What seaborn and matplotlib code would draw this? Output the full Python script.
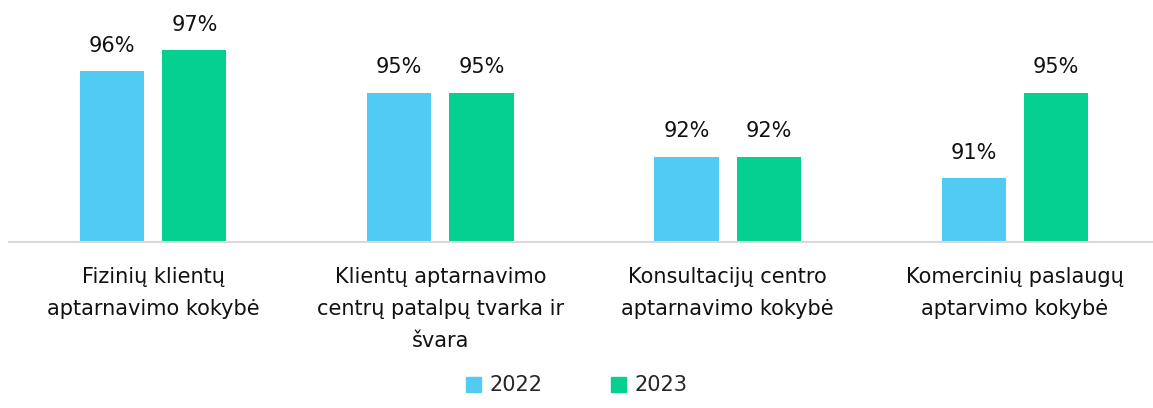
import matplotlib.pyplot as plt
import matplotlib.patches as mpatches
import seaborn as sns
import pandas as pd

categories = [
    "Fizinių klientų\naptarnavimo kokybė",
    "Klientų aptarnavimo\ncentrų patalpų tvarka ir\nšvara",
    "Konsultacijų centro\naptarnavimo kokybė",
    "Komercinių paslaugų\naptarvimo kokybė",
]
years = ["2022", "2023"]
values_2022 = [96, 95, 92, 91]
values_2023 = [97, 95, 92, 95]
colors = {"2022": "#52CBF3", "2023": "#05D08F"}

df = pd.DataFrame({
    "category": categories * 2,
    "year": ["2022"] * 4 + ["2023"] * 4,
    "value": values_2022 + values_2023,
})

sns.set_theme(style="white")
plt.rcParams["font.family"] = ["DejaVu Sans"]

fig = plt.figure(figsize=(11.53, 4.08), dpi=100)
ax = fig.add_axes([0.0082, 0.407, 0.9966, 0.593])

sns.barplot(data=df, x="category", y="value", hue="year", hue_order=years,
            palette=colors, saturation=1, width=0.574, gap=0.22, linewidth=0, ax=ax)

for cont in ax.containers:
    ax.bar_label(cont, labels=[f"{v:.0f}%" for v in cont.datavalues],
                 padding=11, fontsize=15, color="#111111")

ax.set_ylim(88, 99.35)
ax.set_xlim(-0.5, 3.5)
ax.set_xlabel("")
ax.set_ylabel("")
ax.set_yticks([])
for s in ["top", "left", "right"]:
    ax.spines[s].set_visible(False)
ax.spines["bottom"].set_color("#D9D9D9")
ax.spines["bottom"].set_linewidth(1.5)
ax.tick_params(axis="x", length=0, pad=18, labelsize=15, labelcolor="#111111")
for lbl in ax.get_xticklabels():
    lbl.set_linespacing(1.75)

ax.get_legend().remove()
handles = [mpatches.Patch(color=colors[y], label=y) for y in years]
fig.legend(handles=handles, loc="lower center", bbox_to_anchor=(0.5, -0.015), ncol=2,
           frameon=False, fontsize=15, handlelength=0.72, handleheight=0.72,
           handletextpad=0.4, columnspacing=3.3)

fig.savefig("out.png", dpi=100)
